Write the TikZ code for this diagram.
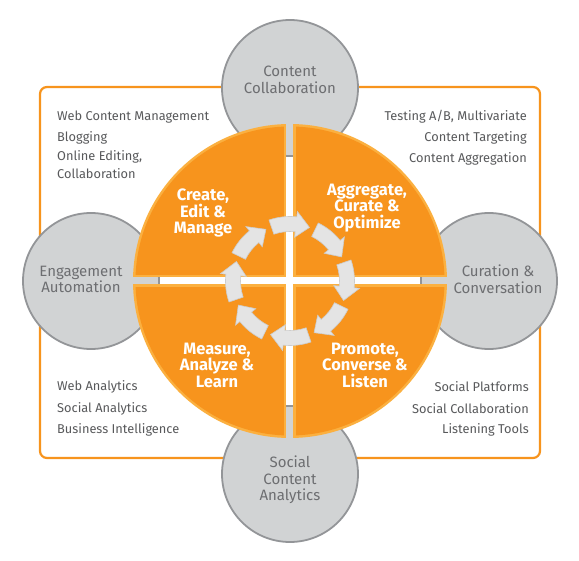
\documentclass[tikz,border=0pt]{standalone}
\usepackage{fontspec}
\setmainfont{Fira Sans}
\definecolor{orng}{HTML}{F7941D}
\definecolor{lorng}{HTML}{FBB040}
\definecolor{sgray}{HTML}{D1D3D4}
\definecolor{sedge}{HTML}{939598}
\definecolor{stext}{HTML}{6D6E71}
\definecolor{ltext}{HTML}{58595B}
\definecolor{arw}{HTML}{E4E4E4}
\definecolor{arwedge}{HTML}{CCCCCC}
\begin{document}
\begin{tikzpicture}[x=1pt,y=1pt,
  sat/.style={circle, minimum size=136pt, inner sep=0pt, fill=sgray, draw=sedge, line width=1.8pt},
  sattext/.style={align=center, text=stext, font=\fontsize{15}{16.5}\selectfont},
  quad/.style={align=center, text=white, font=\bfseries\fontsize{16.5}{16.5}\selectfont},
  item/.style={text=ltext, font=\fontsize{12.8}{14}\selectfont, inner sep=0pt},
  ringarrow/.style={fill=arw, draw=arwedge, line width=0.6pt},
]
\useasboundingbox (-290,-280) rectangle (289,281);
% frame
\draw[orng, line width=2.2pt, rounded corners=7pt, fill=white] (-250,-177) rectangle (250,194);
% satellites
\node[sat] (top) at (0,193) {};
\node[sat] (bot) at (0,-193) {};
\node[sat] (left) at (-199,0) {};
\node[sat] (right) at (199,0) {};
% main circle quadrants
\foreach \sx/\sy in {1/1,1/-1,-1/1,-1/-1}{
  \begin{scope}
    \clip (0,0) circle (157);
    \fill[lorng] (\sx*3.5,\sy*3.5) rectangle (\sx*170,\sy*170);
    \clip (0,0) circle (154.5);
    \fill[orng] (\sx*6,\sy*6) rectangle (\sx*170,\sy*170);
  \end{scope}
}
% ring of arrows
\foreach \c in {90,45,0,-45,-90,-135,-180,-225}{
  \filldraw[ringarrow]
    ({\c+19}:64.5) arc[start angle={\c+19}, end angle={\c-6}, radius=64.5]
    -- ({\c-6}:70) -- ({\c-20}:57) -- ({\c-6}:44) -- ({\c-6}:49.5)
    arc[start angle={\c-6}, end angle={\c+19}, radius=49.5] -- cycle;
}
% quadrant labels
\node[quad] (q1) at (-87,68) {Create,\\Edit \&\\Manage};
\node[quad] (q2) at (77,73) {Aggregate,\\Curate \&\\Optimize};
\node[quad] (q3) at (-73,-84) {Measure,\\Analyze \&\\Learn};
\node[quad] (q4) at (75,-84) {Promote,\\Converse \&\\Listen};
% satellite labels
\node[sattext] (ttop) at (0,201) {Content\\Collaboration};
\node[sattext] (tleft) at (-209,1.5) {Engagement\\Automation};
\node[sattext] (tright) at (208,2) {Curation \&\\Conversation};
\node[sattext] (tbot) at (0,-199) {Social\\Content\\Analytics};
% lists
\node[item, anchor=west] (l1) at (-233,164) {Web Content Management};
\node[item, anchor=west] (l2) at (-233,143) {Blogging};
\node[item, anchor=west] (l3) at (-233,124) {Online Editing,};
\node[item, anchor=west] (l4) at (-233,107) {Collaboration};
\node[item, anchor=east] (r1) at (237,164) {Testing A/B, Multivariate};
\node[item, anchor=east] (r2) at (237,143) {Content Targeting};
\node[item, anchor=east] (r3) at (237,122) {Content Aggregation};
\node[item, anchor=west] (l5) at (-233,-106) {Web Analytics};
\node[item, anchor=west] (l6) at (-233,-128) {Social Analytics};
\node[item, anchor=west] (l7) at (-233,-149) {Business Intelligence};
\node[item, anchor=east] (r4) at (239,-106) {Social Platforms};
\node[item, anchor=east] (r5) at (239,-128) {Social Collaboration};
\node[item, anchor=east] (r6) at (239,-149) {Listening Tools};
\end{tikzpicture}
\end{document}
